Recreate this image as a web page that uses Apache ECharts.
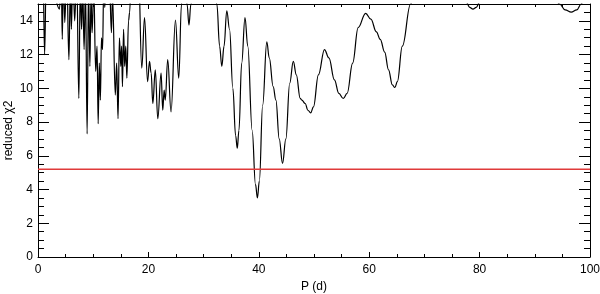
<!DOCTYPE html>
<html>
<head>
<meta charset="utf-8">
<script src="https://cdn.jsdelivr.net/npm/echarts@6/dist/echarts.min.js"></script>
<style>
  html, body { margin: 0; padding: 0; background: #fff; }
  #chart { width: 600px; height: 294px; }
</style>
</head>
<body>
<div id="chart"></div>
<script>
// periods (d) and reduced chi2 (values > 15 are clipped by the frame)
const periods = [
  0, 0.9, 1.2, 1.5, 2.5, 3.9, 4.2, 4.4, 4.6, 4.85, 5.2, 5.6, 5.85, 6.05, 6.3, 6.65, 7.0, 7.4, 7.65, 7.9,
  8.1, 8.35, 8.6, 8.9, 9.15, 9.4, 9.6, 9.8, 10.1, 10.45, 10.7, 10.9, 11.1, 11.3, 11.5, 11.7, 11.9, 12.1, 12.4,
  12.9, 13.3, 13.5, 14.0, 14.25, 14.5, 14.75, 15.0, 15.15, 15.3, 15.5, 15.7, 15.9, 16.1, 16.4, 16.6, 16.9,
  17.5, 18.2, 18.8, 19.3, 19.85, 20.2, 20.5, 20.8, 21.25, 21.7, 22.3, 22.6, 22.85, 23.05, 23.5, 24.1, 24.9,
  25.5, 26.0, 26.5, 27.0, 27.35, 27.7, 28.3,
  29, 30.5, 31.5, 32.4, 32.9, 33.3, 33.7, 34.2, 34.7, 35.3, 35.8, 36.1, 36.4, 36.9, 37.5, 38.0, 38.8, 39.4,
  39.75, 40.1, 40.7, 41.45, 41.9, 42.6, 43.1, 43.7, 44.3, 44.9, 45.6, 46.25, 46.8, 47.5, 47.8, 48.4, 48.9,
  49.4, 49.9, 50.8, 51.9, 52.7, 53.7, 54.5, 55.3, 56.0, 57.0, 58.0, 59.35, 60.3, 61.3, 62.0, 62.8, 63.5,
  64.2, 64.65, 65.1, 66.0, 67.5, 68.5, 70, 73, 76, 77.6, 78.2, 78.8, 79.4, 80, 82, 86, 90, 93, 94.5, 95.5,
  96.6, 97.6, 98.4, 99.2, 100
]
const chi2 = [
  17, 17, 12.0, 17, 16, 14.7, 17, 12.9, 17, 13.9, 17, 11.7, 16, 13.5, 17, 14.0, 17, 9.4, 16, 13.5,
  16, 12.3, 16, 7.3, 16, 11.3, 15.5, 13.3, 16, 11.0, 12.5, 7.9, 11.5, 9.3, 13, 12.3, 16, 14.8, 17,
  17, 13.3, 15.5, 9.6, 11.5, 8.2, 13.0, 11.3, 12.5, 10.1, 13.5, 11.3, 12.5, 10.6, 14.0, 14.5, 17,
  17, 17, 11.2, 14.2, 10.4, 11.6, 10.9, 9.1, 11.1, 8.2, 10.9, 8.7, 9.9, 9.3, 11.7, 8.6, 14.05,
  10.6, 15, 17, 15, 13.75, 15, 17,
  18, 18, 17, 15, 12.5, 11.3, 12.5, 14.6, 13.5, 10, 7.2, 6.45, 7.5, 11.5, 14.2, 12.5, 7.5, 4.3,
  3.5, 4.5, 9, 12.75, 11.8, 10.1, 9.3, 7, 5.55, 7, 10.3, 11.6, 10.8, 9.4, 9.3, 9.1, 8.7,
  8.55, 8.9, 10.8, 12.3, 11.8, 10.5, 9.7, 9.4, 9.7, 11.5, 13.6, 14.45, 14.1, 13.35, 12.9, 12.15, 11.1,
  10.2, 10.05, 10.4, 12.5, 15, 16, 17, 17.5, 16.5, 15.1, 14.8, 14.7, 14.8, 15.1, 16.5, 17.5, 17, 15.8, 15, 14.65,
  14.52, 14.65, 15, 15.6, 16
]
// red reference level
const levelX = [0, 100]
const levelY = [5.2, 5.2]

const font = 'Liberation Sans, Arial, sans-serif'

const curve = periods.map((p, i) => [p, chi2[i]])
const level = levelX.map((p, i) => [p, levelY[i]])

const xBase = {
  type: 'value', min: 0, max: 100, interval: 20,
  axisLine: { onZero: false, lineStyle: { color: '#000', width: 1 } },
  axisTick: { inside: true, length: 5, lineStyle: { color: '#000' } },
  minorTick: { show: true, splitNumber: 4, length: 3, lineStyle: { color: '#000' } },
  splitLine: { show: false }
}
const yBase = {
  type: 'value', min: 0, max: 15, interval: 2,
  axisLine: { onZero: false, lineStyle: { color: '#000', width: 1 } },
  axisTick: { inside: true, length: 11, lineStyle: { color: '#000' } },
  minorTick: { show: true, splitNumber: 4, length: 6, lineStyle: { color: '#000' } },
  splitLine: { show: false }
}

const chart = echarts.init(document.getElementById('chart'))
chart.setOption({
  animation: false,
  grid: { left: 38, right: 10, top: 4, bottom: 37, outerBoundsMode: 'none', containLabel: false },
  xAxis: [
    Object.assign({}, xBase, {
      position: 'bottom',
      name: 'P (d)', nameLocation: 'middle', nameGap: 24, nameMoveOverlap: false,
      nameTextStyle: { color: '#000', fontFamily: font, fontSize: 12 },
      axisLabel: { color: '#000', fontFamily: font, fontSize: 12, margin: 7 }
    }),
    Object.assign({}, xBase, { position: 'top', axisLabel: { show: false } })
  ],
  yAxis: [
    Object.assign({}, yBase, {
      position: 'left',
      name: 'reduced \u03c72', nameLocation: 'middle', nameGap: 23, nameMoveOverlap: false,
      nameTextStyle: { color: '#000', fontFamily: font, fontSize: 12 },
      axisLabel: { color: '#000', fontFamily: font, fontSize: 12, margin: 5, showMaxLabel: false }
    }),
    Object.assign({}, yBase, { position: 'right', axisLabel: { show: false } })
  ],
  series: [
    {
      type: 'line', data: curve, smooth: 0.4, smoothMonotone: 'x',
      showSymbol: false, clip: true,
      lineStyle: { color: '#000', width: 1.2 }
    },
    {
      type: 'line', data: level, showSymbol: false,
      lineStyle: { color: '#e03a3a', width: 1.6 }
    }
  ]
})
</script>
</body>
</html>
